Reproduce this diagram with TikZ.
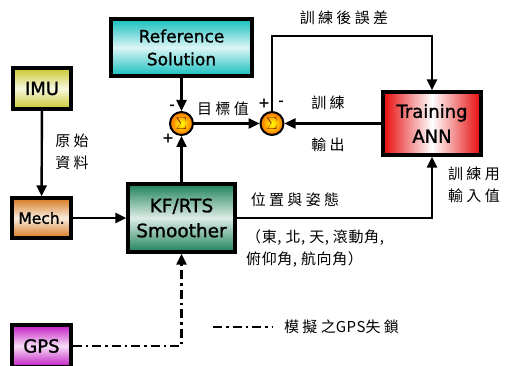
\documentclass[tikz,border=0pt]{standalone}
\usepackage{fontspec}
\setmainfont[FakeBold=1.3]{DejaVu Sans}
\newfontfamily\cjk[LetterSpace=22]{Noto Sans CJK TC}
\newfontfamily\cjktight[LetterSpace=4]{Noto Sans CJK TC}
\usetikzlibrary{arrows.meta,shadows}

\definecolor{refc}{RGB}{20,190,190}
\definecolor{imuc}{RGB}{200,200,45}
\definecolor{mechc}{RGB}{215,120,30}
\definecolor{kfc}{RGB}{30,130,90}
\definecolor{gpsc}{RGB}{195,25,195}
\definecolor{annc}{RGB}{230,10,10}
\definecolor{sigc}{RGB}{140,50,0}

\begin{document}
\begin{tikzpicture}[x=1pt,y=-1pt,
  blk/.style={draw=black, line width=3.4pt, inner sep=0pt, align=center,
    drop shadow={shadow xshift=1.5pt, shadow yshift=-1.5pt, fill=black!55}},
  vgrad/.style={top color=#1, bottom color=#1, middle color=#1!15!white},
  sumnode/.style={circle, draw=black, line width=2pt, minimum size=23pt,
    inner sep=0pt, inner color=yellow, outer color=orange!90!red,
    text=sigc, font=\fontsize{16}{16}\selectfont},
  tip/.style={-{Triangle[length=11pt,width=10pt]}},
  arr/.style={line width=2.4pt, tip},
  dd/.style={line width=2.4pt, dash pattern=on 9pt off 4pt on 2.5pt off 4pt},
  lbl/.style={inner sep=0pt, align=left, font={\cjk\fontsize{15}{22}\selectfont}},
  sgn/.style={inner sep=0pt, font=\fontsize{14}{14}\selectfont}]

\useasboundingbox (0,0) rectangle (505,366);
\clip (0,0) rectangle (505,366);

% blocks
\node[blk, vgrad=refc, minimum width=141pt, minimum height=57pt,
  font=\fontsize{17}{23}\selectfont] (ref) at (181.5,47.5) {Reference\\Solution};
\node[blk, vgrad=imuc, minimum width=58pt, minimum height=41pt,
  font=\fontsize{18}{18}\selectfont] (imu) at (42,88.5) {IMU};
\node[blk, vgrad=mechc, minimum width=59pt, minimum height=40pt,
  font=\fontsize{15.5}{16}\selectfont] (mech) at (41.5,218) {Mech.};
\node[blk, vgrad=kfc, minimum width=107pt, minimum height=68pt,
  font=\fontsize{18.5}{25}\selectfont] (kf) at (181.5,218) {KF/RTS\\Smoother};
\node[blk, vgrad=gpsc, minimum width=59pt, minimum height=42pt,
  font=\fontsize{18}{18}\selectfont] (gps) at (41.5,346) {GPS};
\node[blk, left color=annc, right color=annc, middle color=white,
  minimum width=98pt, minimum height=63pt,
  font=\fontsize{18}{25}\selectfont] (ann) at (432,123.5) {Training\\ANN};

% summing junctions
\node[sumnode] (sum1) at (181.5,123.5) {$\Sigma$};
\node[sumnode] (sum2) at (272,123.5) {$\Sigma$};

% signal flow
\coordinate (errtop) at (432,36);
\draw[arr] (imu) -- (mech);
\draw[arr] (mech) -- (kf);
\draw[arr] (kf) -- (sum1);
\draw[arr] (ref) -- (sum1);
\draw[arr] (sum1) -- (sum2);
\draw[arr] (ann) -- (sum2);
\draw[arr] (sum2.north) |- (errtop) -- (ann.north);
\draw[arr] (kf.east) -| (ann.south);
\draw[dd, tip] (gps.east) -| (kf.south);

% legend
\coordinate (lg1) at (213,327);
\coordinate (lg2) at (272,327);
\draw[dd] (lg1) -- (lg2);
\node[lbl, anchor=west] (lgt) at (284,327) {模擬之{\cjktight GPS}失鎖};

% signs
\node[sgn] (m1) at (172,107) {-};
\node[sgn] (p1) at (168,138) {+};
\node[sgn] (p2) at (264,103) {+};
\node[sgn] (m2) at (281,103) {-};

% labels
\node[lbl] (raw) at (72,152) {原始\\資料};
\node[lbl] (target) at (223,109) {目標值};
\node[lbl] (err) at (344,18) {訓練後誤差};
\node[lbl] (tout1) at (328,103) {訓練};
\node[lbl] (tout2) at (328,145) {輸出};
\node[lbl] (pose) at (295,200) {位置與姿態};
\node[lbl, anchor=north west, font={\cjktight\fontsize{15}{22}\selectfont}] (axes) at (246,229)
  {（東, 北, 天, 滾動角,\\俯仰角, 航向角）};
\node[lbl, anchor=north west] (tin) at (448,167) {訓練用\\輸入值};
\end{tikzpicture}
\end{document}
